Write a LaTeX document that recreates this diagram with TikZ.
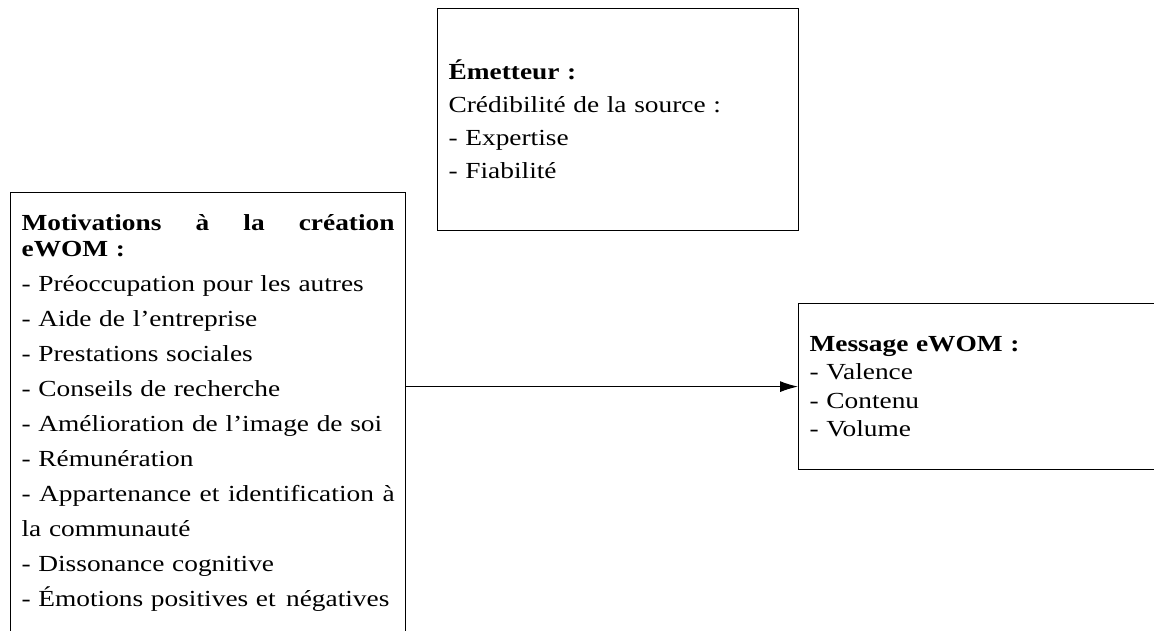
\documentclass[tikz,border=0pt]{standalone}
\usepackage{fontspec}
\setmainfont[FakeStretch=1.19]{Liberation Serif}
\usetikzlibrary{arrows.meta}

\tikzstyle{block} = [rectangle, draw, line width=1.2pt, anchor=north west, inner xsep=11pt, align=left, font=\fontsize{23}{33}\selectfont]

\begin{document}
\begin{tikzpicture}[x=1pt, y=-1pt]
        \tikzset{>={Latex[length=18pt,width=11pt]}}
        \useasboundingbox (0,0) rectangle (1154,631);
        \clip (0,0) rectangle (1154,631);
        % source of the message
        \node (emetteur) at (437,8) [block, minimum height=222pt, text width=339pt] {
            \textbf{Émetteur :}\\
            Crédibilité de la source :\\
            - Expertise\\
            - Fiabilité
};
        % motivations, box runs past the bottom edge
        \node (motivations) at (10,192) [block, inner ysep=22pt, text width=373pt, font=\fontsize{23}{35}\selectfont] {
            \makebox[373pt][s]{\textbf{Motivations\hfill à\hfill la\hfill création}}\\[-9pt]
            \textbf{eWOM :}\\
            - Préoccupation pour les autres\\
            - Aide de l’entreprise\\
            - Prestations sociales\\
            - Conseils de recherche\\
            - Amélioration de l’image de soi\\
            - Rémunération\\
            \makebox[373pt][s]{-\hfill Appartenance\hfill et\hfill identification\hfill à}\\
            la communauté\\
            - Dissonance cognitive\\
            \mbox{- Émotions positives et\hspace{0.45em}négatives}
};
        % message, box runs past the right edge
        \node (message) at (798,303) [block, minimum height=166pt, text width=380pt, font=\fontsize{23}{28.5}\selectfont] {
            \textbf{Message eWOM :}\\
            - Valence\\
            - Contenu\\
            - Volume
};
        \draw[->, line width=1pt] (motivations.east |- message.west) -- (message.west);
    \end{tikzpicture}
\end{document}
